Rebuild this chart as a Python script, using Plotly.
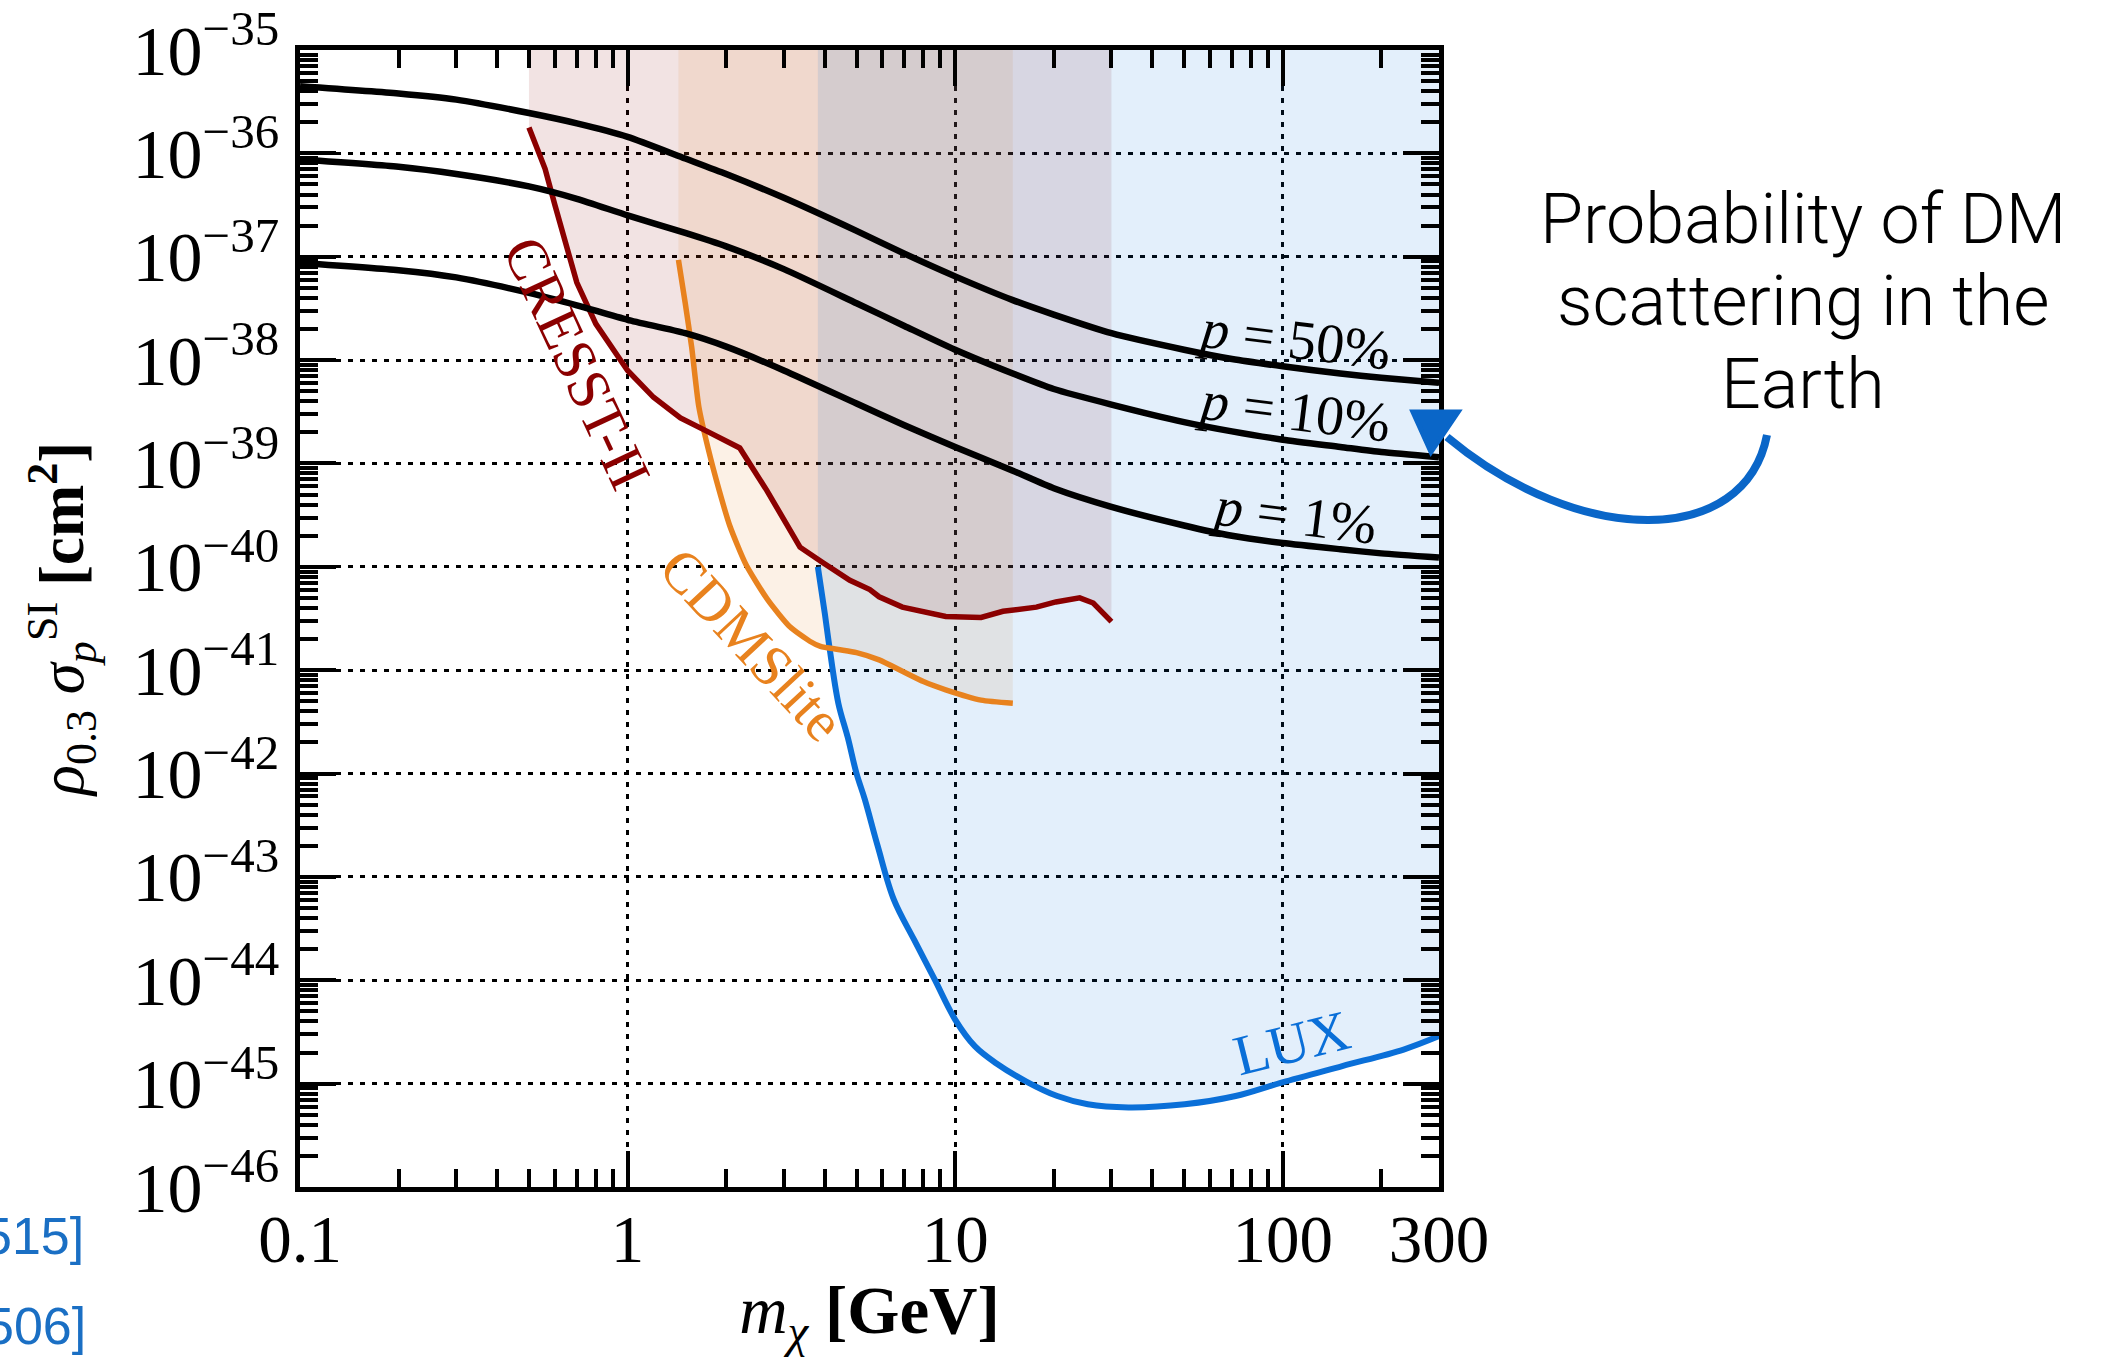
import numpy as np
import plotly.graph_objects as go

# ---------------- data ----------------
# Earth-scattering probability contours: log10(rho_0.3 * sigma_p^SI / cm^2)
mass_p = [0.1, 0.2, 0.3, 0.5, 0.7, 1, 1.5, 2, 3, 5, 7, 10, 15, 20, 30, 50, 70, 100, 150, 200, 300]
p50_log = [-35.35, -35.42, -35.48, -35.61, -35.71, -35.84, -36.05, -36.20, -36.43, -36.75, -36.97,
           -37.19, -37.42, -37.56, -37.74, -37.90, -37.99, -38.06, -38.13, -38.17, -38.22]
p10_log = [-36.06, -36.13, -36.20, -36.32, -36.44, -36.60, -36.77, -36.90, -37.12, -37.45, -37.67,
           -37.90, -38.13, -38.28, -38.43, -38.60, -38.69, -38.77, -38.84, -38.89, -38.94]
p1_log = [-37.06, -37.13, -37.20, -37.35, -37.47, -37.61, -37.74, -37.87, -38.10, -38.42, -38.63,
          -38.84, -39.07, -39.24, -39.42, -39.60, -39.70, -39.77, -39.83, -39.87, -39.91]

# CRESST-II limit
cresst_mass = [0.50, 0.53, 0.56, 0.60, 0.65, 0.70, 0.80, 0.90, 1.0, 1.2, 1.45, 1.75, 2.2, 2.66,
               3.36, 3.95, 4.77, 5.49, 5.86, 6.9, 9.36, 12.0, 14.0, 17.7, 20.3, 24.0, 26.4, 30.0]
cresst_log = [-35.75, -35.95, -36.15, -36.50, -36.90, -37.25, -37.65, -37.90, -38.10, -38.36,
              -38.56, -38.69, -38.85, -39.26, -39.81, -39.96, -40.13, -40.22, -40.29, -40.39,
              -40.48, -40.49, -40.43, -40.39, -40.34, -40.30, -40.35, -40.53]

# CDMSlite limit
cdms_mass = [1.43, 1.50, 1.57, 1.65, 1.76, 1.90, 2.05, 2.30, 2.68, 3.13, 3.60, 3.88, 4.4, 5.0,
             5.86, 6.9, 8.0, 9.36, 12.0, 15.0]
cdms_log = [-37.03, -37.45, -37.88, -38.45, -38.85, -39.25, -39.60, -39.98, -40.32, -40.58,
            -40.72, -40.77, -40.80, -40.83, -40.90, -41.01, -41.11, -41.19, -41.29, -41.32]

# LUX limit
lux_mass = [3.81, 4.0, 4.13, 4.4, 4.7, 5.0, 5.3, 5.8, 6.5, 7.5, 8.65, 10.0, 11.5, 13.3, 16.5,
            20.5, 25.4, 33.8, 50.2, 71.8, 99.1, 152, 234, 300]
lux_log = [-40.00, -40.45, -40.77, -41.32, -41.65, -42.00, -42.25, -42.70, -43.22, -43.61,
           -43.99, -44.38, -44.64, -44.80, -44.98, -45.12, -45.20, -45.23, -45.20, -45.12,
           -44.99, -44.83, -44.67, -44.54]

x_tick_vals = [0.1, 1, 10, 100, 300]
x_tick_text = ["0.1", "1", "10", "100", "300"]
y_exponents = list(range(-46, -34))
x_range = [0.1, 300]
y_range = [1e-46, 1e-35]

# ---------------- styling ----------------
W, H = 2102, 1357
L, R, T, B = 300, 663, 50, 170
SERIF = "Liberation Serif"
C_CRESST = "#8B0000"
C_CDMS = "#E8821E"
C_LUX = "#0A6FD8"
C_ARROW = "#0A66C8"


def paper(px, py):
    """pixel position in the page -> paper coordinates (for decorations)"""
    return (px - L) / (W - L - R), (H - B - py) / (H - T - B)


def sig(logs):
    return list(10.0 ** np.array(logs))


fig = go.Figure()


def band(mass, logs, color):
    xs = list(mass) + list(mass)[::-1]
    ys = sig(logs) + [y_range[1]] * len(mass)
    fig.add_trace(go.Scatter(x=xs, y=ys, mode="lines", fill="toself", fillcolor=color,
                             line=dict(width=0), hoverinfo="skip", showlegend=False))


band(cresst_mass, cresst_log, "rgba(139,0,0,0.11)")
band(cdms_mass, cdms_log, "rgba(232,130,30,0.11)")
band(lux_mass, lux_log, "rgba(0,112,220,0.11)")

fig.add_trace(go.Scatter(x=lux_mass, y=sig(lux_log), mode="lines",
                         line=dict(color=C_LUX, width=6, shape="spline", smoothing=1.0),
                         showlegend=False))
fig.add_trace(go.Scatter(x=cdms_mass, y=sig(cdms_log), mode="lines",
                         line=dict(color=C_CDMS, width=5.5, shape="spline", smoothing=0.6),
                         showlegend=False))
fig.add_trace(go.Scatter(x=cresst_mass, y=sig(cresst_log), mode="lines",
                         line=dict(color=C_CRESST, width=5.5), showlegend=False))
for logs in (p50_log, p10_log, p1_log):
    fig.add_trace(go.Scatter(x=mass_p, y=sig(logs), mode="lines",
                             line=dict(color="black", width=6.5, shape="spline", smoothing=0.6),
                             showlegend=False))

x_minor = [k * 10.0 ** d for d in (-1, 0, 1, 2) for k in range(2, 10) if k * 10.0 ** d < 300]
y_minor = [k * 10.0 ** e for e in range(-46, -35) for k in range(2, 10)]

axis_common = dict(
    type="log", showline=True, linewidth=4.5, linecolor="black", mirror="allticks",
    ticks="inside", ticklen=36, tickwidth=4, tickcolor="black",
    showgrid=True, gridcolor="black", gridwidth=2.5, griddash="5px,7px",
    zeroline=False,
)

fig.update_xaxes(
    **axis_common,
    tickfont=dict(family=SERIF, size=67, color="black"),
    range=[np.log10(x_range[0]), np.log10(x_range[1])],
    tickmode="array", tickvals=x_tick_vals, ticktext=x_tick_text,
    ticklabelstandoff=-10,
    minor=dict(tickmode="array", tickvals=x_minor, ticks="inside", ticklen=18, tickwidth=4,
               tickcolor="black", showgrid=False),
    title=dict(text="<i>m</i><sub><i>χ</i></sub> <b>[GeV]</b>",
               font=dict(family=SERIF, size=67, color="black"), standoff=36),
)
fig.update_yaxes(
    **axis_common,
    tickfont=dict(family=SERIF, size=70, color="black"),
    range=[np.log10(y_range[0]), np.log10(y_range[1])],
    tickmode="array", tickvals=[10.0 ** e for e in y_exponents],
    ticktext=["10<sup>−%d</sup>" % (-e) for e in y_exponents],
    ticklabelstandoff=2,
    minor=dict(tickmode="array", tickvals=y_minor, ticks="inside", ticklen=18, tickwidth=4,
               tickcolor="black", showgrid=False),
    title=dict(text="<i>ρ</i><sub>0.3</sub> <i>σ</i><sub><i>p</i></sub><sup>SI</sup> <b>[cm<sup>2</sup>]</b>",
               font=dict(family=SERIF, size=63, color="black"), standoff=30),
)

ann = []
# curve labels (data coordinates; log axes take log10 values)
ann.append(dict(x=-0.154, y=-38.03, text="CRESST-II", textangle=65,
                font=dict(family=SERIF, size=59, color=C_CRESST)))
ann.append(dict(x=0.380, y=-40.75, text="CDMSlite", textangle=47,
                font=dict(family=SERIF, size=58, color=C_CDMS)))
ann.append(dict(x=2.028, y=-44.60, text="LUX", textangle=-14,
                font=dict(family=SERIF, size=57, color=C_LUX)))
for txt, yy in (("50%", -37.80), ("10%", -38.49), ("1%", -39.50)):
    ann.append(dict(x=2.035, y=yy, text="<i>p</i> = " + txt, textangle=7,
                    font=dict(family=SERIF, size=56, color="black")))
for a in ann:
    a.update(xref="x", yref="y", showarrow=False, xanchor="center", yanchor="middle")

# side note
for line, py in (("Probability of DM", 219), ("scattering in the", 301), ("Earth", 384)):
    xp, yp = paper(1803, py)
    ann.append(dict(x=xp, y=yp, xref="paper", yref="paper", text=line, showarrow=False,
                    xanchor="center", yanchor="middle",
                    font=dict(family="Roboto", size=70, color="black", weight=300)))
# cut-off references at the left edge
for txt, pxr, py in (("515]", 86, 1236), ("506]", 88, 1326)):
    xp, yp = paper(pxr, py)
    ann.append(dict(x=xp, y=yp, xref="paper", yref="paper", text=txt, showarrow=False,
                    xanchor="right", yanchor="middle",
                    font=dict(family="Liberation Sans", size=52, color="#1A6FC4")))

# hand-drawn arrow
p0, p1, p2, p3 = paper(1767, 435), paper(1745, 548), paper(1580, 548), paper(1447, 437)
arrow_path = "M %f %f C %f %f %f %f %f %f" % (p0 + p1 + p2 + p3)
t0, t1, t2 = paper(1413, 412), paper(1458, 412), paper(1431, 452)
head_path = "M %f %f L %f %f L %f %f Z" % (t0 + t1 + t2)
shapes = [
    dict(type="path", xref="paper", yref="paper", path=arrow_path,
         line=dict(color=C_ARROW, width=8)),
    dict(type="path", xref="paper", yref="paper", path=head_path,
         line=dict(color=C_ARROW, width=5), fillcolor=C_ARROW),
]

fig.update_layout(
    width=W, height=H, margin=dict(l=L, r=R, t=T, b=B, autoexpand=False),
    paper_bgcolor="white", plot_bgcolor="white", showlegend=False,
    font=dict(family=SERIF, color="black"),
    annotations=ann, shapes=shapes,
)

fig.write_html("out.html")
